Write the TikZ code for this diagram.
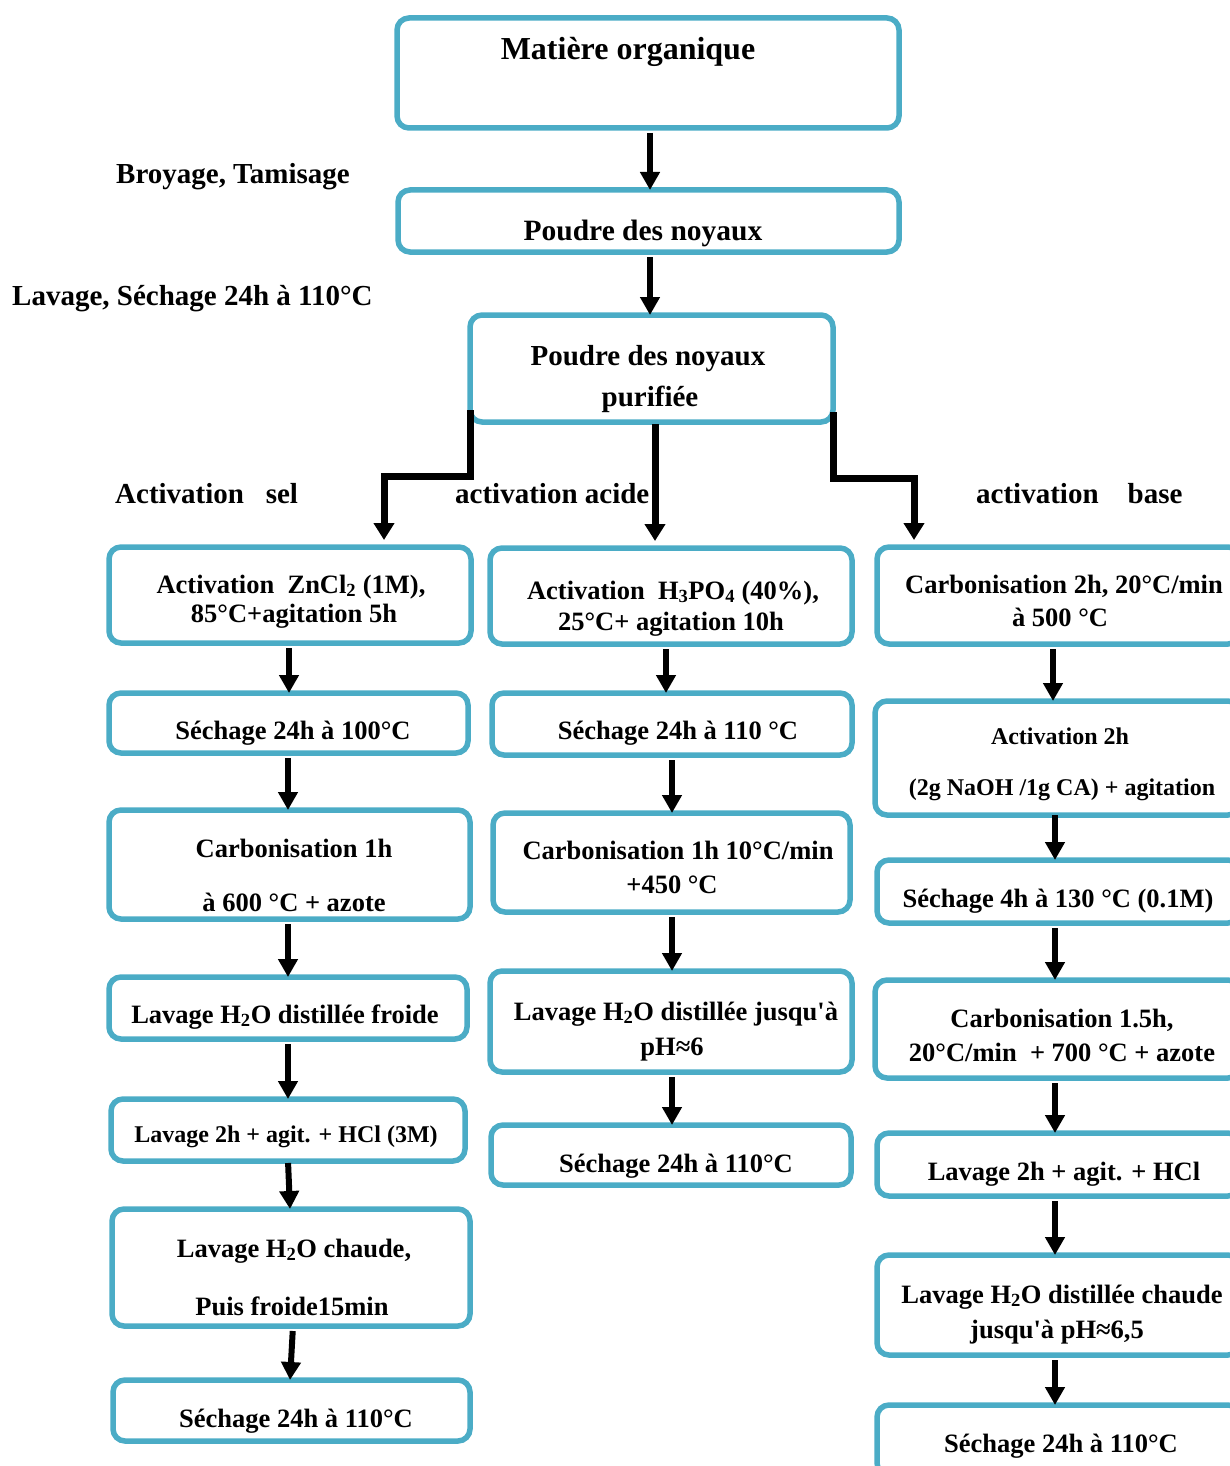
\documentclass[tikz,border=0pt]{standalone}
\usepackage{fontspec}
\setmainfont{Liberation Serif}
\usetikzlibrary{arrows.meta}
\definecolor{boxc}{RGB}{75,172,198}
\newcommand\bx[5]{\node[box,minimum width={#4-#2},minimum height={#5-#3}] (#1) at ({(#2+#4)/2},{(#3+#5)/2}) {};}
\begin{document}
\begin{tikzpicture}[x=1pt,y=-1pt,
 box/.style={draw=boxc,line width=5.5pt,rounded corners=12pt,inner sep=0pt,outer sep=0pt},
 txt/.style={anchor=base,inner sep=0pt,font=\bfseries\fontsize{26.5}{30}\selectfont},
 smalltxt/.style={txt,font=\bfseries\fontsize{24}{28}\selectfont},
 lbl/.style={anchor=base west,inner sep=0pt,font=\bfseries\fontsize{29}{32}\selectfont},
 arr/.style={line width=6pt,-{Triangle[length=18pt,width=19pt]},shorten <=5pt},
 branch/.style={line width=7pt,-{Triangle[length=17pt,width=20pt]},shorten >=7pt}]
\useasboundingbox (0,0) rectangle (1230,1466);

% top chain
\bx{mo}{397}{18}{899}{128}
\node[txt,font=\bfseries\fontsize{32}{36}\selectfont] (tmo) at (628,60) {Matière organique};
\bx{pn}{398}{190}{899}{252}
\node[txt,font=\bfseries\fontsize{29.5}{33}\selectfont] (tpn) at (643,240) {Poudre des noyaux};
\bx{pp}{470}{315}{833}{422}
\node[txt,font=\bfseries\fontsize{29}{33}\selectfont] (tpp1) at (648,365) {Poudre des noyaux};
\node[txt,font=\bfseries\fontsize{29}{33}\selectfont] (tpp2) at (650,406) {purifiée};
\draw[arr] (mo.south -| 650,0) -- (pn.north -| 650,0);
\draw[arr] (pn.south -| 650,0) -- (pp.north -| 650,0);

% labels
\node[lbl] (l1) at (116,183) {Broyage, Tamisage};
\node[lbl] (l2) at (12,305) {Lavage, Séchage 24h à 110°C};
\node[lbl] (l3) at (115,503) {Activation\ \ \ sel};
\node[lbl] (l4) at (455,503) {activation acide};
\node[lbl] (l5) at (976,503) {activation\ \ \ \ base};

% left column
\bx{L1}{109}{547}{471}{643}
\node[txt] (tL1a) at (291,593) {Activation\ \ ZnCl\textsubscript{2} (1M),};
\node[txt] (tL1b) at (294,622) {85°C+agitation 5h};
\bx{L2}{109}{693}{468}{753}
\node[txt] (tL2) at (293,739) {Séchage 24h à 100°C};
\bx{L3}{109}{810}{470}{919}
\node[txt] (tL3a) at (294,857) {Carbonisation 1h};
\node[txt] (tL3b) at (294,911) {à 600 °C + azote};
\bx{L4}{109}{977}{467}{1039}
\node[txt] (tL4) at (285,1023) {Lavage H\textsubscript{2}O distillée froide};
\bx{L5}{111}{1099}{465}{1161}
\node[smalltxt] (tL5) at (286,1142) {Lavage 2h + agit. + HCl (3M)};
\bx{L6}{112}{1209}{470}{1326}
\node[txt] (tL6a) at (294,1257) {Lavage H\textsubscript{2}O chaude,};
\node[txt] (tL6b) at (292,1315) {Puis froide15min};
\bx{L7}{113}{1380}{470}{1441}
\node[txt] (tL7) at (296,1427) {Séchage 24h à 110°C};

% middle column
\bx{M1}{490}{548}{852}{644}
\node[txt] (tM1a) at (673,599) {Activation\ \ H\textsubscript{3}PO\textsubscript{4} (40\%),};
\node[txt] (tM1b) at (671,630) {25°C+ agitation 10h};
\bx{M2}{492}{693}{852}{755}
\node[txt] (tM2) at (678,739) {Séchage 24h à 110 °C};
\bx{M3}{493}{813}{850}{912}
\node[txt] (tM3a) at (678,859) {Carbonisation 1h 10°C/min};
\node[txt] (tM3b) at (672,893) {+450 °C};
\bx{M4}{490}{971}{852}{1072}
\node[txt] (tM4a) at (676,1020) {Lavage H\textsubscript{2}O distillée jusqu\textquotesingle à};
\node[txt] (tM4b) at (672,1055) {pH≈6};
\bx{M5}{491}{1125}{851}{1185}
\node[txt] (tM5) at (676,1172) {Séchage 24h à 110°C};

% right column
\bx{R1}{877}{547}{1240}{644}
\node[txt] (tR1a) at (1064,593) {Carbonisation 2h, 20°C/min};
\node[txt] (tR1b) at (1060,626) {à 500 °C};
\bx{R2}{875}{701}{1240}{815}
\node[smalltxt] (tR2a) at (1060,744) {Activation 2h};
\node[smalltxt] (tR2b) at (1062,795) {(2g NaOH /1g CA) + agitation};
\bx{R3}{877}{860}{1240}{923}
\node[txt] (tR3) at (1058,907) {Séchage 4h à 130 °C (0.1M)};
\bx{R4}{875}{980}{1240}{1078}
\node[txt] (tR4a) at (1062,1027) {Carbonisation 1.5h,};
\node[txt] (tR4b) at (1062,1061) {20°C/min\ \ + 700 °C + azote};
\bx{R5}{877}{1133}{1240}{1196}
\node[txt] (tR5) at (1064,1180) {Lavage 2h + agit. + HCl};
\bx{R6}{877}{1255}{1240}{1355}
\node[txt] (tR6a) at (1062,1303) {Lavage H\textsubscript{2}O distillée chaude};
\node[txt] (tR6b) at (1057,1338) {jusqu\textquotesingle à pH≈6,5};
\bx{R7}{877}{1405}{1240}{1475}
\node[txt] (tR7) at (1061,1452) {Séchage 24h à 110°C};

% branches
\draw[branch] (pp.south west |- 0,410) -- (pp.south west |- 0,476) -| (L1.north -| 384,0);
\draw[branch,shorten <=2pt] (pp.south -| 655,0) -- (M1.north -| 655,0);
\draw[branch] (pp.south east |- 0,412) -- (pp.south east |- 0,478) -| (R1.north -| 914,0);

% left arrows
\draw[arr] (L1.south -| 289,0) -- (L2.north -| 289,0);
\draw[arr] (L2.south -| 288,0) -- (L3.north -| 288,0);
\draw[arr] (L3.south -| 288,0) -- (L4.north -| 288,0);
\draw[arr] (L4.south -| 288,0) -- (L5.north -| 288,0);
\draw[arr,shorten <=2pt] (L5.south -| 288,0) -- (L6.north -| 290,0);
\draw[arr] (L6.south -| 293,0) -- (L7.north -| 290,0);

% middle arrows
\draw[arr] (M1.south -| 666,0) -- (M2.north -| 666,0);
\draw[arr] (M2.south -| 672,0) -- (M3.north -| 672,0);
\draw[arr] (M3.south -| 672,0) -- (M4.north -| 672,0);
\draw[arr] (M4.south -| 672,0) -- (M5.north -| 672,0);

% right arrows
\draw[arr] (R1.south -| 1053,0) -- (R2.north -| 1053,0);
\draw[arr,shorten <=0pt] (R2.south -| 1055,0) -- (R3.north -| 1055,0);
\draw[arr] (R3.south -| 1055,0) -- (R4.north -| 1055,0);
\draw[arr] (R4.south -| 1055,0) -- (R5.north -| 1055,0);
\draw[arr] (R5.south -| 1055,0) -- (R6.north -| 1055,0);
\draw[arr] (R6.south -| 1055,0) -- (R7.north -| 1055,0);
\end{tikzpicture}
\end{document}
